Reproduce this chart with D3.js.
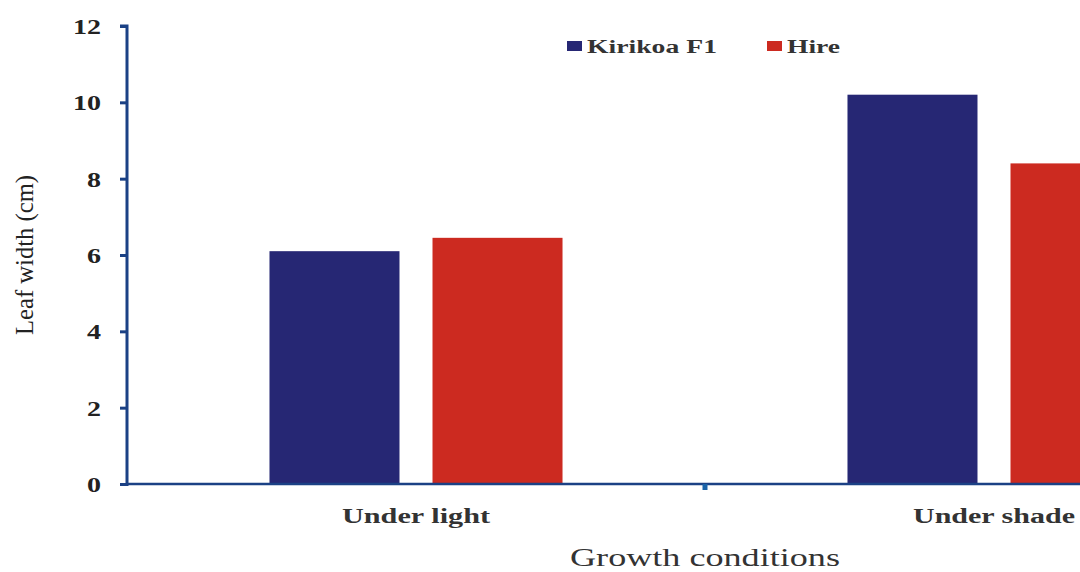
<!DOCTYPE html>
<html><head><meta charset="utf-8">
<script src="https://cdn.jsdelivr.net/npm/d3@7"></script>
<style>body{margin:0;background:#fff}svg{display:block}text{font-family:"Liberation Serif","Times New Roman",serif}</style>
</head><body>
<svg id="c" width="1080" height="572"></svg>
<script>
const categories = ["Under light", "Under shade"];
const seriesNames = ["Kirikoa F1", "Hire"];
const kirikoa = [6.1, 10.2];
const hire = [6.45, 8.4];
const yTicks = [0, 2, 4, 6, 8, 10, 12];
const colors = ["#262774", "#cc2a20"];
const axisColor = "#1b4185";

const svg = d3.select("#c");
const mLeft = 127, mTop = 26, mBottom = 484, plotRight = 1283;
const x = d3.scaleBand().domain(categories).range([mLeft, plotRight]).paddingInner(0).paddingOuter(0);
const xs = d3.scaleBand().domain(seriesNames).range([0, x.bandwidth()]).paddingInner(0.2025).paddingOuter(0.874);
const y = d3.scaleLinear().domain([0, 12]).range([mBottom, mTop]);

const data = categories.map((c, i) => ({c, vals: [kirikoa[i], hire[i]]}));
const g = svg.append("g");
data.forEach(d => {
  d.vals.forEach((v, j) => {
    g.append("rect")
      .attr("x", x(d.c) + xs(seriesNames[j]))
      .attr("width", xs.bandwidth())
      .attr("y", y(v))
      .attr("height", y(0) - y(v))
      .attr("fill", colors[j]);
  });
});

// y axis
const ya = svg.append("g").attr("transform", `translate(${mLeft},0)`)
  .call(d3.axisLeft(y).tickValues(yTicks).tickSize(7).tickPadding(19).tickFormat(d3.format("d")));
ya.select(".domain").attr("stroke", axisColor).attr("stroke-width", 3).attr("d", `M-7,${mTop}H0V${mBottom+2}`);
ya.selectAll(".tick line").attr("stroke", axisColor).attr("stroke-width", 3);
ya.selectAll(".tick text").attr("fill", "#222").attr("font-size", 21).attr("font-weight", "bold")
  .attr("font-family", '"Liberation Serif",serif').attr("dy", "0.35em")
  .attr("textLength", d => 14 * String(d).length).attr("lengthAdjust", "spacingAndGlyphs");

// x axis
const xa = svg.append("g").attr("transform", `translate(0,${mBottom})`)
  .call(d3.axisBottom(x).tickSize(0).tickFormat(""));
xa.select(".domain").attr("stroke", axisColor).attr("stroke-width", 2.5).attr("d", `M${mLeft},0H${plotRight}`);
xa.selectAll(".tick").remove();
// boundary tick between categories
svg.append("line").attr("x1", x(categories[1])).attr("x2", x(categories[1]))
  .attr("y1", mBottom).attr("y2", mBottom + 6).attr("stroke", "#1a63a8").attr("stroke-width", 5);

// category labels
const catWidths = [148, 162];
categories.forEach((c, i) => {
  svg.append("text").attr("x", x(c) + x.bandwidth() / 2).attr("y", 523)
    .attr("text-anchor", "middle").attr("font-size", 20).attr("font-weight", "bold").attr("fill", "#333")
    .attr("textLength", catWidths[i]).attr("lengthAdjust", "spacingAndGlyphs").text(c);
});

// axis titles
svg.append("text").attr("x", 705).attr("y", 566).attr("text-anchor", "middle")
  .attr("font-size", 25).attr("fill", "#333").attr("textLength", 270).attr("lengthAdjust", "spacingAndGlyphs")
  .text("Growth conditions");
svg.append("text").attr("transform", "translate(33,255) rotate(-90)").attr("text-anchor", "middle")
  .attr("font-size", 25).attr("fill", "#222").attr("textLength", 160).attr("lengthAdjust", "spacingAndGlyphs")
  .text("Leaf width (cm)");

// legend
const legX = [567, 767], legW = [130, 53];
seriesNames.forEach((s, i) => {
  svg.append("rect").attr("x", legX[i]).attr("y", 41).attr("width", 15).attr("height", 10).attr("fill", colors[i]);
  svg.append("text").attr("x", legX[i] + 20).attr("y", 53).attr("font-size", 18).attr("font-weight", "bold")
    .attr("fill", "#333").attr("textLength", legW[i]).attr("lengthAdjust", "spacingAndGlyphs").text(s);
});
</script>
</body></html>
